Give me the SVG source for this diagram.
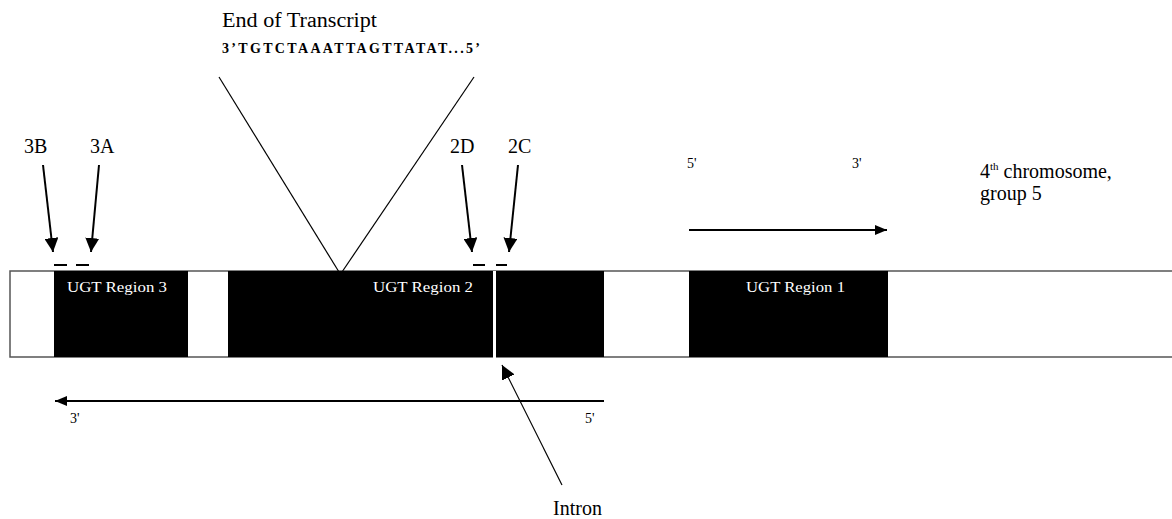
<svg xmlns="http://www.w3.org/2000/svg" width="1172" height="519" viewBox="0 0 1172 519">
<style>
text{font-family:"Liberation Serif","Times New Roman",serif;fill:#000}
.lbl{font-size:20px}
.reg{font-size:15px;fill:#fff}
.sm{font-size:14px}
.seq{font-size:14px;font-weight:bold}
.arr{stroke:#000;stroke-width:2;fill:none}
.thin{stroke:#000;stroke-width:1.2;fill:none}
</style>
<defs>
<marker id="ah" markerUnits="userSpaceOnUse" markerWidth="14" markerHeight="14" refX="14" refY="7" orient="auto" viewBox="0 0 14 14">
<path d="M0,0 L14,7 L0,14 z" fill="#000"/>
</marker>
<marker id="ahs" markerUnits="userSpaceOnUse" markerWidth="12" markerHeight="10" refX="12" refY="5" orient="auto" viewBox="0 0 12 10">
<path d="M0,0 L12,5 L0,10 z" fill="#000"/>
</marker>
</defs>
<rect width="1172" height="519" fill="#fff"/>
<g id="chromosome">
<rect x="10" y="271" width="1170" height="86" fill="#fff" stroke="#555" stroke-width="1.5"/>
</g>
<g id="region3">
<rect x="54" y="271" width="134" height="86" fill="#000"/>
<text class="reg" x="67" y="292" textLength="100" lengthAdjust="spacingAndGlyphs">UGT Region 3</text>
</g>
<g id="region2">
<rect x="228" y="271" width="265" height="86" fill="#000"/>
<rect x="496" y="271" width="108" height="86" fill="#000"/>
<rect x="493" y="271" width="3" height="31" fill="#fff"/>
<rect x="493" y="313" width="3" height="47" fill="#fff"/>
<text class="reg" x="373" y="292" textLength="100" lengthAdjust="spacingAndGlyphs">UGT Region 2</text>
</g>
<g id="region1">
<rect x="689" y="271" width="199" height="86" fill="#000"/>
<text class="reg" x="746" y="292" textLength="99" lengthAdjust="spacingAndGlyphs">UGT Region 1</text>
</g>
<g id="transcript-end">
<text class="lbl" x="222" y="27" textLength="155" lengthAdjust="spacingAndGlyphs">End of Transcript</text>
<text class="seq" x="222" y="53" textLength="258" lengthAdjust="spacing">3’TGTCTAAATTAGTTATAT...5’</text>
</g>
<g id="primer-labels">
<text class="lbl" x="24" y="153">3B</text>
<text class="lbl" x="90" y="153">3A</text>
<text class="lbl" x="450" y="153">2D</text>
<text class="lbl" x="508" y="153">2C</text>
</g>
<g id="primers">
<line class="arr" x1="54" y1="265" x2="67" y2="265"/>
<line class="arr" x1="76" y1="265" x2="89" y2="265"/>
<line class="arr" x1="473" y1="265" x2="485" y2="265"/>
<line class="arr" x1="496" y1="265" x2="507" y2="265"/>
</g>
<g id="strand-top">
<text class="sm" x="687" y="168">5'</text>
<text class="sm" x="852" y="168">3'</text>
</g>
<g id="chromosome-label">
<text class="lbl" x="980" y="178">4<tspan font-size="11" dy="-8">th</tspan><tspan dy="8"> chromosome,</tspan></text>
<text class="lbl" x="980" y="200">group 5</text>
</g>
<g id="strand-bottom">
<text class="sm" x="70" y="423">3'</text>
<text class="sm" x="585" y="423">5'</text>
</g>
<g id="intron-label">
<text class="lbl" x="553" y="515">Intron</text>
</g>
<g id="connectors">
<line class="thin" x1="219" y1="77" x2="339" y2="272"/>
<line class="thin" x1="474" y1="77" x2="342" y2="272"/>
<line class="arr" x1="43" y1="165" x2="53" y2="252" marker-end="url(#ah)"/>
<line class="arr" x1="99" y1="165" x2="91" y2="252" marker-end="url(#ah)"/>
<line class="arr" x1="462" y1="165" x2="472" y2="252" marker-end="url(#ah)"/>
<line class="arr" x1="518" y1="165" x2="509" y2="252" marker-end="url(#ah)"/>
<line class="arr" x1="689" y1="230" x2="887" y2="230" marker-end="url(#ahs)"/>
<line class="arr" x1="604" y1="401" x2="55" y2="401" marker-end="url(#ahs)"/>
<line class="thin" stroke-width="1.5" x1="562" y1="485" x2="502" y2="365" marker-end="url(#ah)"/>
</g>
</svg>
